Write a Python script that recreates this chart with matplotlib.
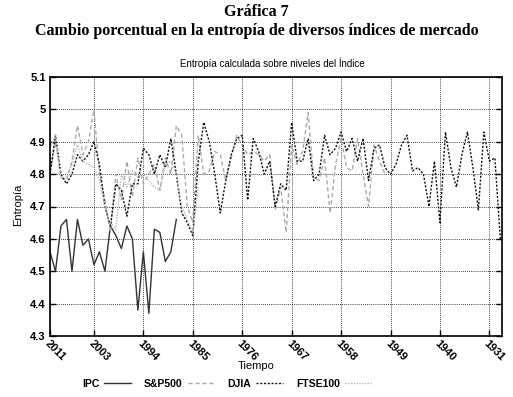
import numpy as np
import matplotlib
matplotlib.use('Agg')
import matplotlib.pyplot as plt
from matplotlib.ticker import FormatStrFormatter

# data: one value per year, starting in 2011 and going back
ipc_years = list(range(2011, 1987, -1))
ipc = [4.56, 4.50, 4.64, 4.66, 4.50, 4.66, 4.58, 4.60, 4.52, 4.56, 4.50, 4.64,
       4.61, 4.57, 4.64, 4.60, 4.38, 4.56, 4.37, 4.63, 4.62, 4.53, 4.56, 4.66]

sp_years = list(range(2011, 1949, -1))
sp500 = [4.80, 4.90, 4.79, 4.78, 4.84, 4.95, 4.86, 4.90, 5.00, 4.80, 4.72, 4.62,
         4.80, 4.72, 4.84, 4.73, 4.85, 4.77, 4.80, 4.83, 4.75, 4.85, 4.80, 4.95,
         4.92, 4.70, 4.65, 4.92, 4.80, 4.81, 4.87, 4.86, 4.78, 4.85, 4.92, 4.89,
         4.86, 4.87, 4.86, 4.84, 4.86, 4.69, 4.76, 4.62, 4.89, 4.83, 4.87, 4.99,
         4.79, 4.78, 4.85, 4.68, 4.83, 4.91, 4.82, 4.81, 4.91, 4.80, 4.70, 4.89,
         4.84, 4.80]

djia_years = list(range(2011, 1928, -1))
djia = [4.80, 4.92, 4.80, 4.77, 4.80, 4.86, 4.84, 4.86, 4.90, 4.83, 4.70, 4.64,
        4.77, 4.75, 4.67, 4.77, 4.77, 4.88, 4.86, 4.80, 4.86, 4.82, 4.91, 4.80,
        4.68, 4.65, 4.61, 4.84, 4.96, 4.90, 4.80, 4.68, 4.78, 4.86, 4.91, 4.92,
        4.72, 4.91, 4.87, 4.80, 4.84, 4.70, 4.77, 4.75, 4.96, 4.84, 4.84, 4.91,
        4.78, 4.80, 4.92, 4.86, 4.88, 4.93, 4.87, 4.91, 4.84, 4.91, 4.78, 4.88,
        4.89, 4.82, 4.80, 4.83, 4.89, 4.92, 4.81, 4.82, 4.80, 4.70, 4.84, 4.65,
        4.93, 4.82, 4.76, 4.86, 4.93, 4.82, 4.69, 4.93, 4.84, 4.85, 4.60]

ftse_years = list(range(2011, 1983, -1))
ftse100 = [4.88, 4.92, 4.79, 4.79, 4.83, 4.89, 4.84, 4.83, 4.82, 4.78, 4.70, 4.65,
           4.63, 4.80, 4.76, 4.81, 4.79, 4.80, 4.78, 4.76, 4.75, 4.83, 4.84, 4.80,
           4.70, 4.66, 4.62, 4.76]

xtick_years = [2011, 2003, 1994, 1985, 1976, 1967, 1958, 1949, 1940, 1931]
yticks = [4.3, 4.4, 4.5, 4.6, 4.7, 4.8, 4.9, 5.0, 5.1]

sans = ['Liberation Sans', 'DejaVu Sans']
serif = ['Liberation Serif', 'DejaVu Serif']

fig = plt.figure(figsize=(5.13, 3.97), dpi=100)
ax = fig.add_axes([50/513, 1-336/397, 452/513, 259/397])

ax.plot(ipc_years, ipc, color='#333333', lw=1.0, ls='-', label='IPC')
ax.plot(sp_years, sp500, color='#aaaaaa', lw=1.0, ls=(0, (3, 2)), label='S&P500')
ax.plot(djia_years, djia, color='#111111', lw=1.0, ls=(0, (1.5, 1.2)), label='DJIA')
ax.plot(ftse_years, ftse100, color='#b8b8b8', lw=1.0, ls=(0, (1, 1)), label='FTSE100')

ax.set_xlim(2011, 1928.7)
ax.set_ylim(4.3, 5.1)
ax.set_xticks(xtick_years)
ax.set_xticklabels([str(y) for y in xtick_years], rotation=-45, ha='left',
                   va='top', rotation_mode='anchor', family=sans, fontsize=8,
                   fontweight='bold')
ax.set_yticks(yticks)
ax.yaxis.set_major_formatter(FormatStrFormatter('%g'))
for lab in ax.get_yticklabels():
    lab.set_family(sans)
    lab.set_fontsize(8)
    lab.set_fontweight('bold')
ax.tick_params(direction='in', length=4, width=1, top=False, right=True, pad=3)
ax.tick_params(axis='x', pad=2)
ax.grid(True, color='black', ls=(0, (1, 1.5)), lw=0.6)
for s in ax.spines.values():
    s.set_linewidth(1.2)

fig.text(0.5, 1-366/397, 'Tiempo', ha='center', va='center', family=sans, fontsize=8)
fig.text(18/513, 1-205/397, 'Entropía', ha='center', va='center', rotation=90,
         family=sans, fontsize=8)

fig.text(0.5, 1-12/397, 'Gráfica 7', ha='center', va='center',
         family=serif, fontweight='bold', fontsize=11.5)
fig.text(0.5, 1-31/397, 'Cambio porcentual en la entropía de diversos índices de mercado',
         ha='center', va='center', family=serif, fontweight='bold', fontsize=11.5)
fig.text(0.53, 1-63/397, 'Entropía calculada sobre niveles del Índice', ha='center',
         va='center', family=sans, fontsize=7)

leg = fig.legend(loc='center', bbox_to_anchor=(227/513, 1-384/397), ncol=4,
                 frameon=False, markerfirst=False, handlelength=2.6,
                 columnspacing=1.2, handletextpad=0.5,
                 prop={'family': sans, 'size': 7.5, 'weight': 'bold'})

fig.savefig('out.png', dpi=100)
